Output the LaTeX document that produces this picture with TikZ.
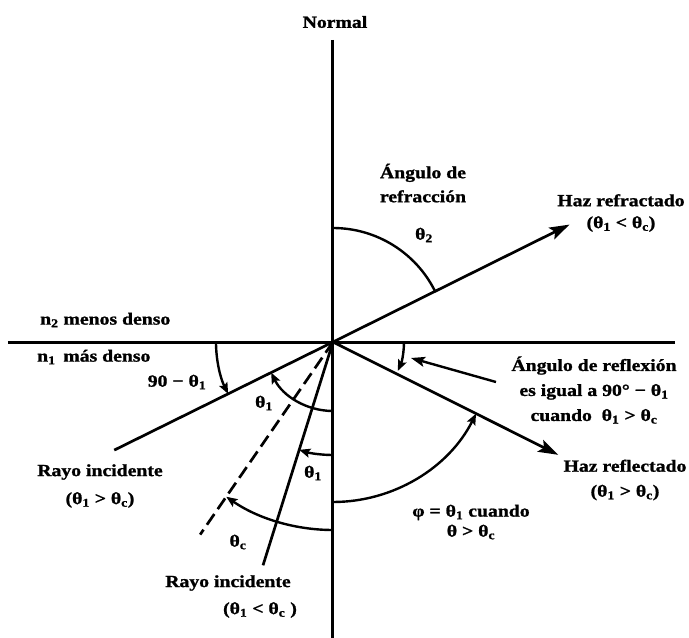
\documentclass[tikz,border=0pt]{standalone}
\usepackage{fontspec}
\setmainfont{Liberation Serif}[FakeStretch=1.16, BoldFeatures={FakeBold=1.2}]
\usetikzlibrary{arrows.meta}
\begin{document}
\begin{tikzpicture}[x=1pt,y=1pt,
  lbl/.style={font=\fontsize{17}{24}\selectfont\bfseries, inner sep=0pt, align=center},
  axis/.style={line width=3pt},
  ray/.style={line width=2.7pt},
  bigtip/.style={-{Stealth[length=20pt,width=13pt,inset=4pt]}},
  arcline/.style={line width=2.4pt},
  smalltip/.style={-{Stealth[length=11pt,width=9pt,inset=2pt]}}]
\useasboundingbox (-333,-296) rectangle (356,342);
% coordinates
\coordinate (O) at (0,0);
\coordinate (Ntop) at (0,302);
\coordinate (Nbot) at (0,-296);
\coordinate (Sl) at (-325,0);
\coordinate (Sr) at (342,0);
\coordinate (Rf) at (26.4:264);
\coordinate (Rl) at (-26.6:252);
\coordinate (I1) at (206.3:244);
\coordinate (C) at (235.4:234);
\coordinate (I2) at (252.6:234);
\coordinate (Ps) at (163,-40);
\coordinate (Pt) at (78,-16);
% axes
\draw[axis] (Ntop) -- (Nbot);
\draw[axis] (Sl) -- (Sr);
% rays
\draw[ray,bigtip] (O) -- (Rf);
\draw[ray,bigtip] (O) -- (Rl);
\draw[ray] (O) -- (I1);
\draw[ray] (O) -- (I2);
\draw[ray,dash pattern=on 13pt off 6pt] (O) -- (C);
% angle arcs
\draw[arcline] (90:114) arc[start angle=90,end angle=26.4,radius=114];
\draw[arcline,smalltip] (180:117) arc[start angle=180,end angle=206.3,radius=117];
\draw[arcline,smalltip] (270:69) arc[start angle=270,end angle=206.3,radius=69];
\draw[arcline,smalltip] (270:113) arc[start angle=270,end angle=252.6,radius=113];
\draw[arcline,smalltip] (270:188) arc[start angle=270,end angle=235.4,radius=188];
\draw[arcline,smalltip] (270:160) arc[start angle=270,end angle=333.4,radius=160];
\draw[arcline,smalltip] (0:71) arc[start angle=0,end angle=-24,radius=71];
\draw[arcline,-{Stealth[length=14pt,width=10pt,inset=3pt]}] (Ps) -- (Pt);
% labels
\node[lbl] (normal) at (2,320) {Normal};
\node[lbl] (angrefr) at (90,159) {Ángulo de\\refracción};
\node[lbl] (t2) at (91,107) {θ\textsubscript{2}};
\node[lbl,font=\fontsize{17}{22}\selectfont\bfseries] (hazrf) at (288,129) {Haz refractado\\(θ\textsubscript{1} < θ\textsubscript{c})};
\node[lbl,anchor=west] (n2) at (-293,22) {n\textsubscript{2} menos denso};
\node[lbl,anchor=west] (n1) at (-296,-15) {n\textsubscript{1}\, más denso};
\node[lbl] (ninety) at (-156,-40) {90 − θ\textsubscript{1}};
\node[lbl] (t1a) at (-69,-61) {θ\textsubscript{1}};
\node[lbl,font=\fontsize{17}{28}\selectfont\bfseries] (ri1) at (-233,-144) {Rayo incidente\\(θ\textsubscript{1} > θ\textsubscript{c})};
\node[lbl] (t1b) at (-20,-131) {θ\textsubscript{1}};
\node[lbl] (tc) at (-95,-200) {θ\textsubscript{c}};
\node[lbl] (ri2) at (-105,-241) {Rayo incidente};
\node[lbl] (ri2b) at (-73,-268) {(θ\textsubscript{1} < θ\textsubscript{c} )};
\node[lbl,font=\fontsize{17}{25}\selectfont\bfseries] (angrefl) at (261,-48) {Ángulo de reflexión\\es igual a 90° − θ\textsubscript{1}\\cuando\ \ θ\textsubscript{1} > θ\textsubscript{c}};
\node[lbl,font=\fontsize{17}{25}\selectfont\bfseries] (hazrl) at (292,-138) {Haz reflectado\\(θ\textsubscript{1} > θ\textsubscript{c})};
\node[lbl,font=\fontsize{17}{20}\selectfont\bfseries] (phi) at (138,-180) {φ = θ\textsubscript{1} cuando\\θ > θ\textsubscript{c}};
\end{tikzpicture}
\end{document}
